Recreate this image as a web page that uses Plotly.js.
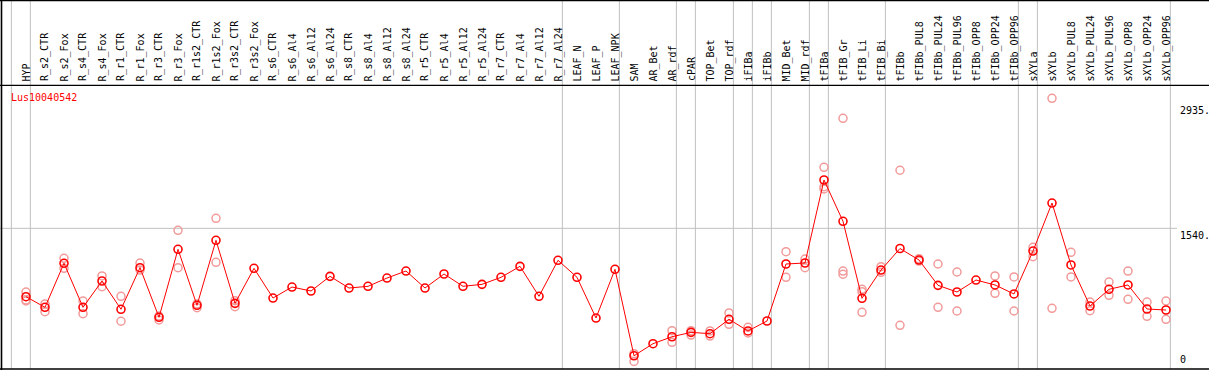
<!DOCTYPE html>
<html>
<head>
<meta charset="utf-8">
<script src="https://cdn.plot.ly/plotly-3.0.1.min.js"></script>
<style>
html,body{margin:0;padding:0;background:#fff;}
#chart{width:1209px;height:370px;}
</style>
</head>
<body>
<div id="chart"></div>
<script>
const categories = ["HYP","R_s2_CTR","R_s2_Fox","R_s4_CTR","R_s4_Fox","R_r1_CTR","R_r1_Fox","R_r3_CTR","R_r3_Fox","R_r1s2_CTR",
  "R_r1s2_Fox","R_r3s2_CTR","R_r3s2_Fox","R_s6_CTR","R_s6_Al4","R_s6_Al12","R_s6_Al24","R_s8_CTR","R_s8_Al4","R_s8_Al12",
  "R_s8_Al24","R_r5_CTR","R_r5_Al4","R_r5_Al12","R_r5_Al24","R_r7_CTR","R_r7_Al4","R_r7_Al12","R_r7_Al24","LEAF_N",
  "LEAF_P","LEAF_NPK","SAM","AR_Bet","AR_rdf","cPAR","TOP_Bet","TOP_rdf","iFIBa","iFIBb",
  "MID_Bet","MID_rdf","tFIBa","tFIB_Gr","tFIB_Li","tFIB_Bi","tFIBb","tFIBb_PUL8","tFIBb_PUL24","tFIBb_PUL96",
  "tFIBb_OPP8","tFIBb_OPP24","tFIBb_OPP96","sXYLa","sXYLb","sXYLb_PUL8","sXYLb_PUL24","sXYLb_PUL96","sXYLb_OPP8","sXYLb_OPP24",
  "sXYLb_OPP96"];

const meanValues = [781,663,1152,663,955,641,1103,552,1307,685,
  1407,707,1096,766,888,844,1007,877,896,988,
  1066,877,1033,896,918,996,1118,785,1185,996,
  544,1085,125,259,336,385,370,530,400,511,
  1144,1155,2077,1618,763,1077,1316,1188,907,833,
  966,911,811,1288,1821,1133,677,863,911,644,
  633];

const repA = [833,700,1207,733,1011,785,1155,566,1518,700,
  1651,736,null,null,null,null,null,null,null,null,
  null,null,null,null,null,null,null,null,null,null,
  null,null,148,null,403,403,400,600,441,null,
  1281,1199,2218,2762,863,1114,2185,1203,1144,1055,
  null,1011,1000,1329,2984,1274,722,944,1066,722,
  733];

const repB = [744,614,1096,592,892,508,1077,522,1103,659,
  1163,670,null,null,null,null,null,null,null,null,
  null,null,null,null,null,null,null,null,null,null,
  null,null,62,null,274,355,344,474,378,null,
  996,1103,2002,1066,836,1052,463,1177,663,622,
  null,818,622,1225,652,1000,625,796,752,563,
  530];

const repC = [733,null,null,null,null,null,null,null,null,null,
  null,null,null,null,null,null,null,null,null,null,
  null,null,null,null,null,null,null,null,null,null,
  null,null,null,null,null,null,null,null,null,null,
  null,null,1977,1030,607,null,null,null,null,null,
  null,null,null,null,null,null,null,null,null,null,
  null];

// indices of the last category of each group (-1 = left edge)
const groupEnds = [-1,0,28,31,34,35,37,38,39,41,42,45,52,53,60];
const yTickValues = [0,1540,2935];
const yTickLabels = ["0","1540.","2935."];
const geneName = "Lus10040542";

const W = 1209, H = 370;
const idx = categories.map((c,i)=>i);
const mono = "DejaVu Sans Mono, monospace";

const repTrace = (vals)=>({
  x: idx, y: vals, type:'scatter', mode:'markers', hoverinfo:'skip',
  marker:{symbol:'circle-open', size:8, color:'#f29a9a', line:{width:1.5, color:'#f29a9a'}}
});

const traces = [
  repTrace(repA), repTrace(repB), repTrace(repC),
  {x: idx, y: meanValues, type:'scatter', mode:'lines+markers',
   line:{color:'#ff0000', width:1},
   marker:{symbol:'circle-open', size:8, color:'#ff0000', line:{width:1.6, color:'#ff0000'}}}
];

const px = (p)=>1 - p/H;

const shapes = [];
groupEnds.forEach(g=>{
  shapes.push({type:'line', xref:'x', yref:'paper', x0:g+0.23, x1:g+0.23, y0:px(369), y1:1,
    line:{color:'#c0c0c0', width:1}, layer:'below'});
});
shapes.push({type:'line', xref:'paper', yref:'y', x0:0, x1:1177/W, y0:1540, y1:1540,
  line:{color:'#c0c0c0', width:1}, layer:'below'});
// frame
shapes.push({type:'line', xref:'paper', yref:'paper', x0:0, x1:1, y0:px(0.6), y1:px(0.6), line:{color:'#000', width:1.3}});
shapes.push({type:'line', xref:'paper', yref:'paper', x0:0, x1:1, y0:px(85.3), y1:px(85.3), line:{color:'#000', width:1.3}});
shapes.push({type:'line', xref:'paper', yref:'paper', x0:0, x1:1, y0:px(369), y1:px(369), line:{color:'#000', width:1.6}});
shapes.push({type:'line', xref:'paper', yref:'paper', x0:1.5/W, x1:1.5/W, y0:0, y1:1, line:{color:'#000', width:1.6}});

const annotations = [];
categories.forEach((c,i)=>{
  annotations.push({text:c, x:i, xref:'x', y:px(83.5), yref:'paper', xanchor:'center', yanchor:'bottom',
    textangle:-90, showarrow:false, font:{family:mono, size:10, color:'#000'}});
});
annotations.push({text:geneName, x:9/W, xref:'paper', y:px(97), yref:'paper', xanchor:'left', yanchor:'middle',
  showarrow:false, font:{family:mono, size:10, color:'#ff0000'}});
yTickValues.forEach((v,k)=>{
  annotations.push({text:yTickLabels[k], x:1178/W, xref:'paper', y:v, yref:'y', xanchor:'left',
    yanchor: v===0 ? 'bottom' : 'top', showarrow:false, font:{family:mono, size:10, color:'#000'}});
});

const layout = {
  width:W, height:H, margin:{l:0,r:0,t:0,b:0,pad:0},
  paper_bgcolor:'#fff', plot_bgcolor:'#fff', showlegend:false,
  xaxis:{range:[-26/19, -26/19 + W/19], visible:false, fixedrange:true},
  yaxis:{range:[-3/0.09004, -3/0.09004 + H/0.09004], visible:false, fixedrange:true},
  shapes: shapes, annotations: annotations
};

Plotly.newPlot('chart', traces, layout, {displayModeBar:false, staticPlot:true});
</script>
</body>
</html>
